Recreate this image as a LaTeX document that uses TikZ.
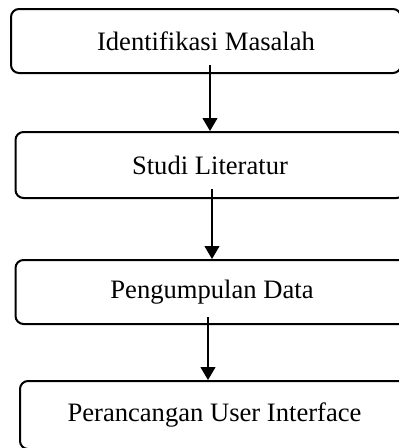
\documentclass[tikz,border=0pt]{standalone}
\usepackage{fontspec}
\setmainfont{Liberation Serif}
\usetikzlibrary{arrows.meta}
\begin{document}
\begin{tikzpicture}[x=1pt,y=-1pt,
  stepbox/.style={draw=black, line width=2pt, rounded corners=8pt, fill=white,
    rectangle, inner sep=0pt, font=\fontsize{26.6}{30}\selectfont},
  arr/.style={draw=black, line width=1.1pt, -{Triangle[length=13pt,width=15pt]}}]
\useasboundingbox (0,0) rectangle (399,448);
\clip (0,0) rectangle (399,448);
\node[stepbox, minimum width=390pt, minimum height=64pt] (b1) at (206,41) {Identifikasi Masalah};
\node[stepbox, minimum width=389pt, minimum height=66pt] (b2) at (210,165) {Studi Literatur};
\node[stepbox, minimum width=393pt, minimum height=64pt] (b3) at (212,292) {Pengumpulan Data};
\node[stepbox, minimum width=389pt, minimum height=68pt] (b4) at (214.5,415) {Perancangan User Interface};
\coordinate (s1) at (210,65);
\coordinate (s2) at (212,189);
\coordinate (s3) at (208,317);
\draw[arr] (s1) -- (s1 |- b2.north);
\draw[arr] (s2) -- (s2 |- b3.north);
\draw[arr] (s3) -- (s3 |- b4.north);
\end{tikzpicture}
\end{document}
